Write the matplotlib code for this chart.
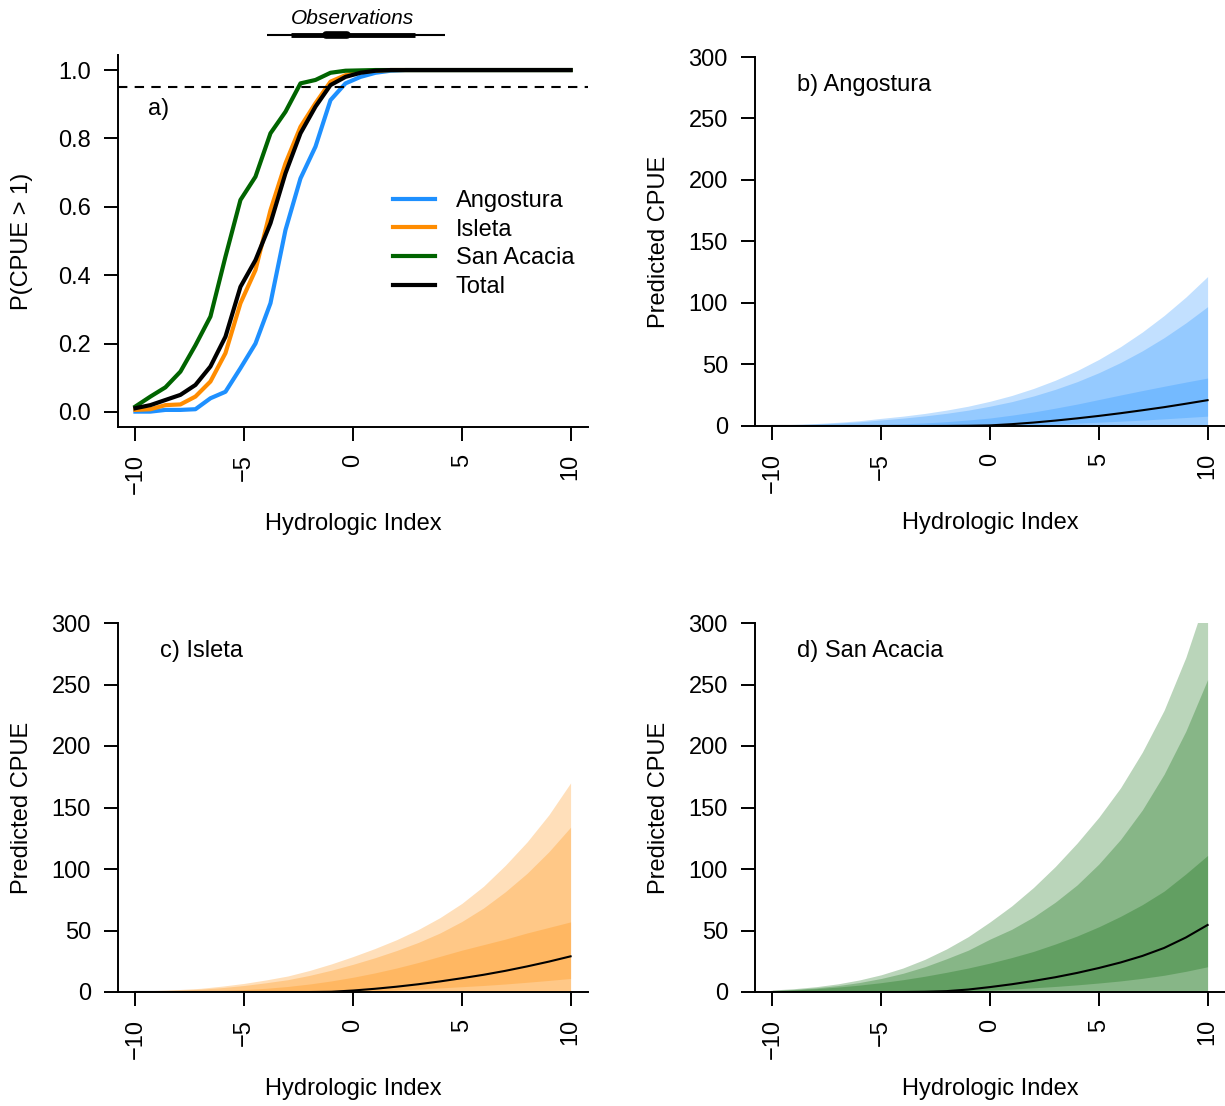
"""
Occurrence probability and predicted CPUE against the hydrologic index,
for the three reaches of the river (Angostura, Isleta, San Acacia).
Saves the four-panel figure to out.png.
"""

import matplotlib.pyplot as plt
import matplotlib.transforms as mtransforms
import numpy as np

plt.rcParams["font.family"] = ["Liberation Sans", "DejaVu Sans"]

# ---- panel a: P(CPUE > 1), evaluated on 30 points from -10 to 10 ----
hi_grid = np.linspace(-10, 10, 30)

p_angostura = [0.001, 0.001, 0.006, 0.006, 0.008, 0.040, 0.059, 0.128, 0.200, 0.318,
               0.532, 0.683, 0.776, 0.912, 0.961, 0.980, 0.992, 0.998, 1.0, 1.0,
               1.0, 1.0, 1.0, 1.0, 1.0, 1.0, 1.0, 1.0, 1.0, 1.0]
p_isleta = [0.006, 0.008, 0.020, 0.022, 0.045, 0.089, 0.172, 0.318, 0.415, 0.590,
            0.727, 0.834, 0.903, 0.966, 0.985, 0.995, 0.998, 1.0, 1.0, 1.0,
            1.0, 1.0, 1.0, 1.0, 1.0, 1.0, 1.0, 1.0, 1.0, 1.0]
p_san_acacia = [0.016, 0.045, 0.072, 0.118, 0.195, 0.279, 0.454, 0.620, 0.688, 0.815,
                0.878, 0.961, 0.971, 0.992, 0.998, 0.999, 1.0, 1.0, 1.0, 1.0,
                1.0, 1.0, 1.0, 1.0, 1.0, 1.0, 1.0, 1.0, 1.0, 1.0]
p_total = [0.011, 0.020, 0.035, 0.050, 0.079, 0.133, 0.220, 0.366, 0.444, 0.552,
           0.698, 0.815, 0.893, 0.956, 0.980, 0.992, 0.998, 1.0, 1.0, 1.0,
           1.0, 1.0, 1.0, 1.0, 1.0, 1.0, 1.0, 1.0, 1.0, 1.0]

threshold = 0.95

# observed range of the hydrologic index (whiskers, box, middle)
obs_range = [-3.94, 4.25]
obs_box = [-2.84, 2.87]
obs_mid = [-1.25, -0.27]

# ---- panels b-d: predicted CPUE quantile bands, at integer index values ----
hi_pred = np.arange(-10, 11)

ang_upper95 = [0.8, 1.3, 2, 3, 4.3, 6.2, 8, 10.2, 12.9, 16.1, 20.1, 24.8, 30.5, 37.2,
               45, 54.1, 64.5, 76.4, 89.8, 104.8, 121.5]
ang_upper80 = [0.6, 1, 1.6, 2.4, 3.4, 4.9, 6.4, 8.2, 10.3, 12.9, 16.1, 19.8, 24.4, 29.8,
               36, 43.3, 51.6, 61.1, 71.8, 83.8, 97]
ang_upper50 = [0.2, 0.3, 0.4, 0.6, 0.9, 1.3, 1.8, 2.5, 3.5, 4.9, 6.5, 8.8, 11.4, 14.5,
               17.8, 21.5, 25.2, 28.8, 32.3, 35.7, 39]
ang_lower50 = [0, 0, 0, 0, 0, 0, 0, 0, 0, 0, 0.2, 0.5, 1, 1.6, 2.3, 3.1,
               3.9, 4.8, 5.8, 6.9, 8]
ang_median = [0, 0, 0, 0, 0, 0, 0, 0, 0.05, 0.2, 0.5, 1.5, 2.8, 4.4, 6.2, 8.2,
              10.4, 12.8, 15.3, 18.1, 21]

isl_upper95 = [0.8, 1.3, 2, 3, 4.8, 7, 9.8, 13, 17.5, 22.8, 28.8, 35.3, 42.5, 50.8,
               60.5, 72, 86, 103, 122, 144, 170]
isl_upper80 = [0.6, 1, 1.5, 2.3, 3.6, 5.3, 7.5, 10, 13.5, 17.7, 22.5, 27.8, 33.7, 40.3,
               48, 57.3, 68.3, 81.5, 96.5, 114, 134]
isl_upper50 = [0.2, 0.3, 0.5, 0.8, 1.3, 2, 3, 4.5, 6.5, 9, 12, 15.5, 19.5, 24,
               29, 34, 38.5, 43, 48, 52.5, 57]
isl_lower50 = [0, 0, 0, 0, 0, 0, 0, 0, 0, 0, 0.4, 1, 1.6, 2.4, 3.3, 4.3,
               5.3, 6.5, 7.9, 9.4, 11]
isl_median = [0, 0, 0, 0, 0, 0, 0, 0, 0, 0.2, 1.2, 2.6, 4.3, 6.3, 8.6, 11.2,
              14, 17.2, 20.8, 24.7, 29]

san_upper95 = [1.6, 2.7, 4.3, 6.6, 9.8, 14, 19.5, 26.5, 35, 45, 57, 70, 85, 102,
               121, 142, 166, 195, 229, 272, 325]
san_upper80 = [1.2, 2.1, 3.4, 5.2, 7.7, 11, 15.2, 20.5, 27, 34, 43, 51, 61, 73,
               87, 104, 124, 148, 177, 212, 254]
san_upper50 = [1, 1.7, 2.7, 4, 5.6, 7.6, 10, 12.8, 16, 19.5, 23.5, 28, 33, 39,
               45.5, 53, 61.5, 71, 82, 96, 111]
san_lower50 = [0, 0, 0, 0, 0, 0, 0, 0, 0.2, 0.7, 1.5, 2.4, 3.4, 4.5, 5.8, 7.3,
               9, 11.1, 13.6, 16.8, 20.5]
san_median = [0, 0, 0, 0, 0, 0, 0, 0.2, 0.7, 2, 4, 6.3, 9, 12, 15.5, 19.5,
              24, 29.3, 35.8, 44.3, 54.5]

COL_ANG = "#1e90ff"
COL_ISL = "#ff8c00"
COL_SAN = "#006400"

FS = 17
PX_W, PX_H = 1225, 1106


def axes_rect(left, top, right, bottom):
    """Axes rectangle from pixel edges."""
    return [left / PX_W, 1 - bottom / PX_H, (right - left) / PX_W, (bottom - top) / PX_H]


def style_axes(ax):
    for side in ("top", "right"):
        ax.spines[side].set_visible(False)
    for side in ("left", "bottom"):
        ax.spines[side].set_linewidth(1.4)
    ax.tick_params(axis="both", width=1.4, length=10, labelsize=FS, pad=9.5)
    ax.tick_params(axis="x", labelrotation=90)
    ax.set_xlim(-10.8, 10.8)
    ax.set_xticks([-10, -5, 0, 5, 10])
    ax.set_xlabel("Hydrologic Index", fontsize=FS)
    ax.xaxis.set_label_coords(0.5, -0.232)
    ax.yaxis.set_label_coords(-0.181, 0.5)


def plot_fan(ax, upper95, upper80, upper50, lower50, median, color, title):
    ax.fill_between(hi_pred, 0, upper95, color=color, alpha=0.27, lw=0)
    ax.fill_between(hi_pred, 0, upper80, color=color, alpha=0.27, lw=0)
    ax.fill_between(hi_pred, lower50, upper50, color=color, alpha=0.27, lw=0)
    ax.plot(hi_pred, median, color="black", lw=1.5)
    ax.set_ylim(0, 300)
    ax.set_yticks(range(0, 301, 50))
    ax.set_ylabel("Predicted CPUE", fontsize=FS)
    ax.text(-8.85, 277, title, fontsize=FS, ha="left", va="center")
    style_axes(ax)


fig = plt.figure(figsize=(PX_W / 100, PX_H / 100), dpi=100)

# panel a
ax_a = fig.add_axes(axes_rect(118, 55, 588, 427))
ax_a.plot(hi_grid, p_angostura, color=COL_ANG, lw=3, label="Angostura")
ax_a.plot(hi_grid, p_isleta, color=COL_ISL, lw=3, label="Isleta")
ax_a.plot(hi_grid, p_san_acacia, color=COL_SAN, lw=3, label="San Acacia")
ax_a.plot(hi_grid, p_total, color="black", lw=3, label="Total")
ax_a.axhline(threshold, color="black", lw=1.5, dashes=(4.5, 3.5))
ax_a.set_ylim(-0.044, 1.044)
ax_a.set_yticks(np.arange(0, 1.01, 0.2))
ax_a.set_yticklabels([f"{v:.1f}" for v in np.arange(0, 1.01, 0.2)])
ax_a.set_ylabel("P(CPUE > 1)", fontsize=FS)
ax_a.text(-9.4, 0.885, "a)", fontsize=FS, ha="left", va="center")
ax_a.legend(loc="upper left", bbox_to_anchor=(0.585, 0.637), frameon=False,
            fontsize=FS, handlelength=1.8, handletextpad=0.85, labelspacing=0.28,
            borderpad=0, borderaxespad=0)
style_axes(ax_a)

# observation range drawn above panel a
trans = mtransforms.blended_transform_factory(ax_a.transData, ax_a.transAxes)
ax_a.plot(obs_range, [1.054, 1.054], color="black", lw=1.5, transform=trans,
          clip_on=False, solid_capstyle="butt")
ax_a.plot(obs_box, [1.054, 1.054], color="black", lw=3.5, transform=trans,
          clip_on=False, solid_capstyle="butt")
ax_a.plot(obs_mid, [1.054, 1.054], color="black", lw=5.5, transform=trans,
          clip_on=False, solid_capstyle="round")
ax_a.text(0.0, 1.097, "Observations", fontsize=15, style="italic",
          ha="center", va="center", transform=trans)

# panels b-d
ax_b = fig.add_axes(axes_rect(755, 57, 1225, 426))
plot_fan(ax_b, ang_upper95, ang_upper80, ang_upper50, ang_lower50, ang_median,
         COL_ANG, "b) Angostura")

ax_c = fig.add_axes(axes_rect(118, 623, 588, 992))
plot_fan(ax_c, isl_upper95, isl_upper80, isl_upper50, isl_lower50, isl_median,
         COL_ISL, "c) Isleta")

ax_d = fig.add_axes(axes_rect(755, 623, 1225, 992))
plot_fan(ax_d, san_upper95, san_upper80, san_upper50, san_lower50, san_median,
         COL_SAN, "d) San Acacia")

fig.savefig("out.png", dpi=100)
plt.close(fig)
